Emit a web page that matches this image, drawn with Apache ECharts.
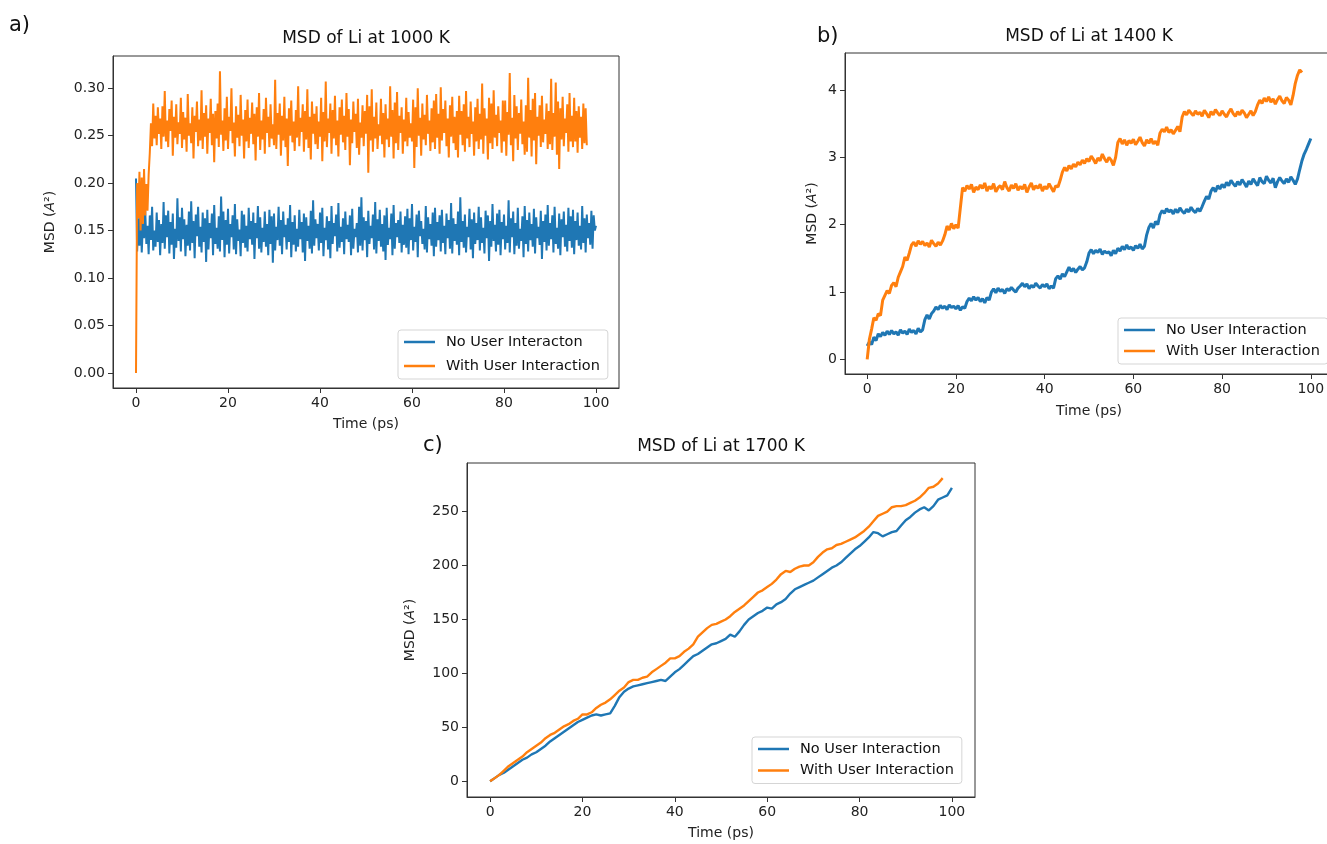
<!DOCTYPE html>
<html>
<head>
<meta charset="utf-8">
<script src="https://cdn.jsdelivr.net/npm/echarts@6/dist/echarts.min.js"></script>
<style>
html,body{margin:0;padding:0;background:#fff;}
#chart{width:1327px;height:844px;}
</style>
</head>
<body>
<div id="chart"></div>
<script>
// ---------- DATA ----------
const xTicks = [0, 20, 40, 60, 80, 100];
const yTicksA = [0, 0.05, 0.10, 0.15, 0.20, 0.25, 0.30];
const yTicksB = [0, 1, 2, 3, 4];
const yTicksC = [0, 50, 100, 150, 200, 250];

const titles = ['MSD of Li at 1000 K', 'MSD of Li at 1400 K', 'MSD of Li at 1700 K'];
const panelLabels = ['a)', 'b)', 'c)'];
const namesA = ['No User Interacton', 'With User Interaction'];
const namesBC = ['No User Interaction', 'With User Interaction'];

// sampling step (ps) of each series
const stepA = 0.25, stepB = 0.5, stepC = 1;

// Panel a: 1000 K
const blueA = [
0.205,0.128,0.163,0.134,0.170,0.127,0.158,0.142,0.172,0.136,0.155,0.125,0.166,0.140,0.175,0.129,0.150,0.133,0.169,0.138,
0.161,0.124,0.157,0.137,0.180,0.131,0.166,0.143,0.171,0.126,0.159,0.135,0.168,0.120,0.152,0.132,0.184,0.139,0.164,0.128,
0.174,0.141,0.162,0.123,0.156,0.134,0.170,0.129,0.181,0.137,0.160,0.121,0.167,0.144,0.175,0.133,0.154,0.127,0.169,0.138,
0.163,0.117,0.172,0.130,0.158,0.142,0.168,0.124,0.177,0.136,0.153,0.131,0.165,0.128,0.186,0.140,0.170,0.122,0.161,0.135,
0.173,0.126,0.157,0.143,0.166,0.130,0.178,0.125,0.162,0.139,0.151,0.123,0.171,0.137,0.167,0.132,0.155,0.128,0.174,0.141,
0.160,0.135,0.169,0.120,0.158,0.142,0.176,0.131,0.164,0.127,0.153,0.138,0.170,0.133,0.157,0.124,0.172,0.136,0.165,0.116,
0.168,0.129,0.154,0.140,0.175,0.134,0.161,0.125,0.170,0.143,0.156,0.130,0.163,0.138,0.177,0.122,0.159,0.135,0.166,0.128,
0.152,0.133,0.172,0.141,0.159,0.127,0.168,0.118,0.164,0.139,0.155,0.131,0.171,0.126,0.182,0.134,0.162,0.142,0.157,0.129,
0.169,0.137,0.174,0.123,0.153,0.140,0.165,0.130,0.160,0.121,0.176,0.136,0.158,0.144,0.167,0.128,0.179,0.132,0.154,0.138,
0.163,0.125,0.170,0.141,0.156,0.138,0.166,0.124,0.173,0.131,0.152,0.143,0.158,0.127,0.175,0.134,0.185,0.129,0.164,0.140,
0.160,0.122,0.171,0.136,0.155,0.142,0.167,0.130,0.180,0.126,0.162,0.139,0.172,0.133,0.157,0.128,0.166,0.119,0.174,0.135,
0.153,0.141,0.168,0.124,0.177,0.131,0.158,0.143,0.161,0.137,0.170,0.127,0.156,0.135,0.165,0.132,0.173,0.125,0.163,0.140,
0.178,0.129,0.154,0.138,0.167,0.122,0.171,0.144,0.160,0.136,0.152,0.130,0.176,0.127,0.164,0.141,0.157,0.134,0.169,0.123,
0.174,0.133,0.159,0.140,0.166,0.128,0.172,0.137,0.155,0.125,0.168,0.142,0.161,0.131,0.179,0.126,0.163,0.139,0.157,0.135,
0.170,0.124,0.185,0.138,0.160,0.132,0.167,0.127,0.154,0.143,0.173,0.130,0.162,0.121,0.169,0.136,0.158,0.140,0.175,0.129,
0.164,0.137,0.153,0.126,0.171,0.142,0.166,0.118,0.160,0.133,0.178,0.139,0.156,0.128,0.168,0.135,0.172,0.124,0.159,0.141,
0.167,0.130,0.155,0.137,0.182,0.127,0.163,0.143,0.170,0.125,0.158,0.134,0.174,0.131,0.152,0.139,0.165,0.122,0.176,0.136,
0.161,0.128,0.169,0.140,0.157,0.133,0.173,0.126,0.164,0.142,0.154,0.135,0.171,0.120,0.160,0.138,0.167,0.129,0.177,0.134,
0.158,0.141,0.166,0.127,0.175,0.136,0.153,0.131,0.168,0.124,0.162,0.143,0.170,0.133,0.156,0.128,0.174,0.139,0.165,0.132,
0.172,0.125,0.160,0.140,0.169,0.134,0.155,0.130,0.176,0.137,0.163,0.127,0.167,0.142,0.158,0.135,0.171,0.131,0.166,0.150,
0.155
];
const orangeA = [
0.000,0.200,0.163,0.212,0.150,0.206,0.157,0.215,0.166,0.199,0.171,0.209,0.232,0.263,0.239,0.284,0.247,0.271,0.240,0.280,
0.252,0.268,0.236,0.281,0.249,0.297,0.244,0.266,0.238,0.278,0.255,0.287,0.229,0.270,0.248,0.283,0.241,0.264,0.252,0.290,
0.237,0.275,0.246,0.269,0.233,0.294,0.250,0.263,0.242,0.280,0.226,0.271,0.254,0.286,0.239,0.267,0.245,0.298,0.236,0.274,
0.249,0.282,0.231,0.268,0.253,0.289,0.240,0.273,0.222,0.276,0.247,0.284,0.238,0.318,0.251,0.266,0.234,0.279,0.245,0.291,
0.236,0.270,0.255,0.300,0.242,0.264,0.228,0.281,0.248,0.272,0.239,0.293,0.250,0.267,0.226,0.277,0.244,0.288,0.237,0.269,
0.252,0.285,0.241,0.273,0.224,0.280,0.249,0.295,0.235,0.266,0.246,0.278,0.231,0.290,0.253,0.270,0.238,0.283,0.247,0.262,
0.240,0.309,0.236,0.274,0.251,0.284,0.229,0.271,0.245,0.291,0.238,0.268,0.218,0.279,0.250,0.287,0.243,0.265,0.234,0.277,
0.248,0.302,0.239,0.269,0.254,0.283,0.233,0.276,0.246,0.299,0.237,0.270,0.225,0.286,0.252,0.273,0.241,0.281,0.236,0.265,
0.249,0.290,0.223,0.275,0.244,0.307,0.238,0.268,0.253,0.284,0.231,0.277,0.247,0.292,0.240,0.266,0.228,0.280,0.251,0.288,
0.243,0.271,0.235,0.295,0.249,0.278,0.219,0.267,0.242,0.286,0.254,0.273,0.237,0.289,0.230,0.264,0.248,0.282,0.239,0.276,
0.252,0.293,0.211,0.281,0.245,0.299,0.233,0.270,0.247,0.285,0.236,0.262,0.250,0.289,0.241,0.274,0.227,0.283,0.246,0.268,
0.238,0.302,0.249,0.277,0.226,0.285,0.242,0.296,0.235,0.271,0.253,0.280,0.231,0.267,0.244,0.290,0.239,0.275,0.248,0.263,
0.244,0.288,0.216,0.280,0.238,0.300,0.250,0.269,0.229,0.284,0.246,0.272,0.240,0.293,0.252,0.266,0.234,0.279,0.243,0.287,
0.236,0.294,0.248,0.273,0.231,0.301,0.245,0.278,0.253,0.287,0.239,0.268,0.227,0.282,0.249,0.291,0.242,0.270,0.235,0.276,
0.227,0.292,0.251,0.276,0.240,0.283,0.233,0.297,0.247,0.270,0.238,0.286,0.252,0.265,0.229,0.280,0.244,0.289,0.236,0.273,
0.246,0.305,0.231,0.279,0.250,0.268,0.225,0.290,0.242,0.284,0.236,0.298,0.248,0.272,0.239,0.281,0.253,0.266,0.232,0.287,
0.244,0.287,0.229,0.275,0.251,0.316,0.240,0.269,0.223,0.293,0.247,0.281,0.235,0.274,0.252,0.288,0.241,0.265,0.230,0.282,
0.233,0.311,0.248,0.277,0.228,0.289,0.245,0.295,0.220,0.270,0.250,0.282,0.238,0.292,0.243,0.267,0.252,0.284,0.236,0.276,
0.241,0.310,0.235,0.274,0.249,0.306,0.230,0.286,0.215,0.279,0.246,0.291,0.239,0.268,0.253,0.283,0.233,0.295,0.244,0.271,
0.238,0.290,0.244,0.276,0.232,0.281,0.248,0.270,0.236,0.284,0.242,0.279,0.240
];

// Panel b: 1400 K
const blueB = [
0.20,0.26,0.22,0.33,0.28,0.38,0.34,0.40,0.36,0.42,
0.37,0.43,0.38,0.41,0.36,0.44,0.39,0.42,0.37,0.45,
0.40,0.43,0.38,0.46,0.41,0.44,0.59,0.66,0.60,0.68,
0.72,0.78,0.74,0.80,0.76,0.79,0.74,0.81,0.77,0.79,
0.75,0.80,0.73,0.78,0.76,0.86,0.91,0.87,0.93,0.88,
0.92,0.86,0.90,0.84,0.92,0.88,1.00,1.05,0.99,1.06,
1.01,1.04,0.98,1.05,1.02,1.07,1.03,1.00,1.06,1.09,
1.13,1.08,1.12,1.05,1.10,1.07,1.13,1.09,1.06,1.11,
1.08,1.12,1.05,1.09,1.06,1.20,1.24,1.19,1.27,1.23,
1.30,1.37,1.31,1.35,1.29,1.34,1.38,1.33,1.36,1.45,
1.58,1.63,1.57,1.62,1.59,1.64,1.56,1.61,1.58,1.60,
1.54,1.62,1.57,1.65,1.61,1.68,1.63,1.70,1.64,1.67,
1.62,1.69,1.65,1.71,1.64,1.68,1.85,1.96,2.02,1.95,
2.05,2.00,2.15,2.21,2.17,2.24,2.19,2.22,2.16,2.23,
2.18,2.25,2.20,2.17,2.23,2.19,2.26,2.21,2.18,2.24,
2.20,2.27,2.35,2.42,2.38,2.50,2.55,2.49,2.58,2.53,
2.60,2.55,2.63,2.58,2.66,2.61,2.57,2.64,2.59,2.67,
2.62,2.56,2.65,2.60,2.68,2.63,2.58,2.70,2.64,2.61,
2.72,2.66,2.62,2.69,2.55,2.64,2.70,2.65,2.61,2.68,
2.63,2.71,2.66,2.60,2.68,2.82,2.95,3.05,3.12,3.20,3.28
];
const orangeB = [
0.00,0.30,0.45,0.62,0.58,0.68,0.65,0.88,0.95,1.02,
0.98,1.10,1.14,1.08,1.22,1.30,1.38,1.52,1.47,1.58,
1.70,1.74,1.68,1.76,1.71,1.75,1.69,1.73,1.67,1.77,
1.72,1.68,1.74,1.70,1.76,1.85,1.98,1.92,2.02,1.94,
2.00,1.95,2.25,2.55,2.50,2.58,2.53,2.60,2.48,2.56,
2.52,2.59,2.54,2.62,2.50,2.57,2.53,2.61,2.49,2.55,
2.58,2.52,2.64,2.55,2.50,2.59,2.54,2.61,2.51,2.57,
2.53,2.60,2.48,2.56,2.62,2.52,2.58,2.54,2.60,2.50,
2.57,2.53,2.61,2.55,2.49,2.58,2.56,2.66,2.78,2.85,
2.80,2.88,2.83,2.90,2.86,2.93,2.89,2.96,2.91,2.98,
2.94,3.02,2.97,2.91,2.99,2.95,3.05,2.98,2.93,3.00,
2.96,2.88,3.00,3.22,3.28,3.20,3.26,3.18,3.25,3.21,
3.27,3.19,3.24,3.30,3.22,3.17,3.26,3.21,3.28,3.20,
3.24,3.18,3.36,3.42,3.38,3.45,3.37,3.41,3.35,3.40,
3.46,3.38,3.60,3.68,3.63,3.70,3.66,3.62,3.69,3.64,
3.67,3.61,3.70,3.65,3.59,3.68,3.63,3.71,3.66,3.62,
3.69,3.64,3.60,3.67,3.72,3.65,3.61,3.68,3.63,3.70,
3.66,3.59,3.64,3.69,3.62,3.68,3.78,3.85,3.80,3.88,
3.83,3.90,3.82,3.87,3.79,3.86,3.91,3.84,3.80,3.89,
3.85,3.78,3.92,4.10,4.22,4.30,4.26
];

// Panel c: 1700 K
const blueC = [
0,3,6,8,11,14,17,20,22,25,
27,30,33,37,40,43,46,49,52,55,
57,59,61,62,61,62,63,70,78,83,
86,88,89,90,91,92,93,94,93,97,
101,104,108,112,116,118,121,124,127,128,
130,132,136,134,139,145,150,153,156,158,
161,160,164,166,169,174,178,180,182,184,
186,189,192,195,198,200,203,207,211,215,
218,222,226,231,230,227,229,231,232,237,
242,245,249,252,254,251,255,261,263,265,
272
];
const orangeC = [
0,3,6,10,14,17,20,23,27,30,
33,36,40,43,45,48,51,53,56,58,
62,62,64,68,71,73,76,80,84,87,
92,94,94,96,97,101,104,107,110,114,
114,116,120,123,127,134,138,142,145,146,
148,150,153,157,160,163,167,171,175,177,
180,183,187,192,195,194,197,199,200,200,
203,208,212,215,216,219,220,222,224,226,
229,232,236,241,246,248,250,254,255,255,
256,258,260,263,267,272,273,276,281
];

// ---------- CHART ----------
const BLUE = '#1f77b4', ORANGE = '#ff7f0e';
const FONT = 'DejaVu Sans';
const AXC = '#333';
const withTime = (vals, step) => vals.map((v, i) => [i * step, v]);

const chart = echarts.init(document.getElementById('chart'), null, {renderer: 'canvas'});

const grids = [
  {left: 113, top: 56, width: 506, height: 332},
  {left: 845, top: 53, width: 488, height: 321},
  {left: 467, top: 463, width: 508, height: 334}
].map(g => Object.assign({show: true, borderColor: AXC, borderWidth: 1, backgroundColor: 'transparent', outerBoundsMode: 'none', containLabel: false}, g));

function xAxis(i, gap) {
  return {
    type: 'value', gridIndex: i, min: -5, max: 105,
    name: 'Time (ps)', nameLocation: 'middle', nameGap: gap,
    nameTextStyle: {fontFamily: FONT, fontSize: 14, color: '#222'},
    axisLine: {show: true, onZero: false, lineStyle: {color: AXC, width: 1}},
    axisTick: {show: true, length: 5, lineStyle: {color: AXC}, customValues: xTicks},
    axisLabel: {fontFamily: FONT, fontSize: 14, color: '#222', margin: 8, customValues: xTicks},
    splitLine: {show: false}
  };
}
function yAxis(i, min, max, ticks, gap, fmt) {
  return {
    type: 'value', gridIndex: i, min: min, max: max,
    name: '{n|MSD (}{i|A}{n|²)}', nameLocation: 'middle', nameGap: gap,
    nameTextStyle: {fontFamily: FONT, fontSize: 14, color: '#222',
      rich: {n: {fontFamily: FONT, fontSize: 14, color: '#222'}, i: {fontFamily: FONT, fontSize: 14, fontStyle: 'italic', color: '#222'}}},
    axisLine: {show: true, onZero: false, lineStyle: {color: AXC, width: 1}},
    axisTick: {show: true, length: 5, lineStyle: {color: AXC}, customValues: ticks},
    axisLabel: {fontFamily: FONT, fontSize: 14, color: '#222', margin: 8, customValues: ticks, formatter: fmt},
    splitLine: {show: false}
  };
}

function line(name, data, color, xi, w) {
  return {
    type: 'line', name: name, xAxisIndex: xi, yAxisIndex: xi, data: data,
    showSymbol: false, symbol: 'none', smooth: false, animation: false, sampling: 'none',
    lineStyle: {color: color, width: w}, itemStyle: {color: color},
    emphasis: {disabled: true}
  };
}

function legend(names, left, top, gap) {
  return {
    show: true, data: names, orient: 'vertical', left: left, top: top,
    padding: [4, 8, 5, 6], itemGap: gap, itemWidth: 31, itemHeight: 2.5, icon: 'rect',
    backgroundColor: 'rgba(255,255,255,0.85)', borderColor: '#d5d5d5', borderWidth: 1, borderRadius: 3,
    selectedMode: false,
    textStyle: {fontFamily: FONT, fontSize: 14.5, color: '#111', lineHeight: 16, padding: [0, 0, 0, 6]}
  };
}

const titleDefs = [
  {text: titles[0], left: 366, top: 30},
  {text: titles[1], left: 1089, top: 28},
  {text: titles[2], left: 721, top: 438}
].map(t => ({text: t.text, left: t.left, top: t.top, textAlign: 'center', padding: 0,
  textStyle: {fontFamily: FONT, fontSize: 17, fontWeight: 'normal', color: '#111'}}));
const labelDefs = [
  {text: panelLabels[0], left: 9, top: 15},
  {text: panelLabels[1], left: 817, top: 26},
  {text: panelLabels[2], left: 423, top: 435}
].map(t => ({text: t.text, left: t.left, top: t.top, padding: 0,
  textStyle: {fontFamily: FONT, fontSize: 21, fontWeight: 'normal', color: '#111'}}));

const option = {
  backgroundColor: '#ffffff',
  animation: false,
  title: titleDefs.concat(labelDefs),
  grid: grids,
  xAxis: [xAxis(0, 29), xAxis(1, 30), xAxis(2, 29)],
  yAxis: [
    yAxis(0, -0.0159, 0.334, yTicksA, 56, v => v.toFixed(2)),
    yAxis(1, -0.2165, 4.55, yTicksB, 26, v => String(v)),
    yAxis(2, -14.5, 295, yTicksC, 50, v => String(v))
  ],
  legend: [
    legend(namesA, 398, 330, 8),
    legend(namesBC, 1118, 318, 5),
    legend(namesBC, 752, 737, 5.5)
  ],
  series: [
    line(namesA[0], withTime(blueA, stepA), BLUE, 0, 2),
    line(namesA[1], withTime(orangeA, stepA), ORANGE, 0, 2),
    line(namesBC[0], withTime(blueB, stepB), BLUE, 1, 3),
    line(namesBC[1], withTime(orangeB, stepB), ORANGE, 1, 3),
    line(namesBC[0], withTime(blueC, stepC), BLUE, 2, 2.4),
    line(namesBC[1], withTime(orangeC, stepC), ORANGE, 2, 2.4)
  ]
};
chart.setOption(option);
</script>
</body>
</html>
